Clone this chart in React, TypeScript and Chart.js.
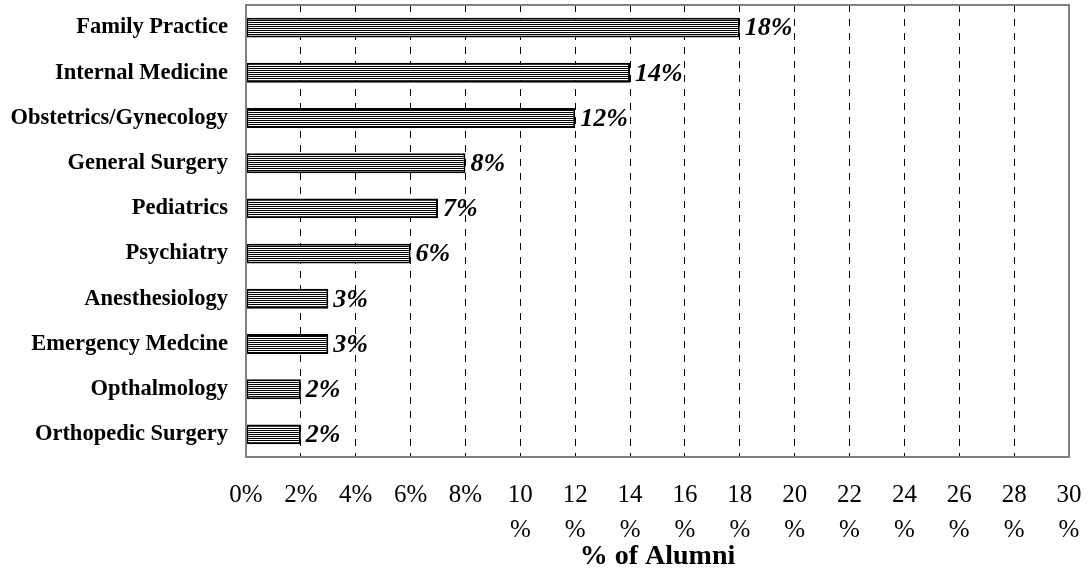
import React, { useEffect, useRef } from "react";
import { Chart, registerables } from "chart.js";

Chart.register(...registerables);

const categories = [
  "Family Practice",
  "Internal Medicine",
  "Obstetrics/Gynecology",
  "General Surgery",
  "Pediatrics",
  "Psychiatry",
  "Anesthesiology",
  "Emergency Medcine",
  "Opthalmology",
  "Orthopedic Surgery",
];
const percentAlumni = [18, 14, 12, 8, 7, 6, 3, 3, 2, 2];
const xTickValues = [0, 2, 4, 6, 8, 10, 12, 14, 16, 18, 20, 22, 24, 26, 28, 30];
const axisTitle = "% of Alumni";

const SERIF = "'Liberation Serif', 'Times New Roman', serif";

function makePattern(): CanvasPattern | string {
  const c = document.createElement("canvas");
  c.width = 4;
  c.height = 2;
  const g = c.getContext("2d");
  if (!g) return "#000";
  g.fillStyle = "#fff";
  g.fillRect(0, 0, 4, 2);
  g.fillStyle = "#000";
  g.fillRect(0, 0, 4, 1);
  const p = g.createPattern(c, "repeat");
  return p || "#000";
}

const frameAndLabels = {
  id: "frameAndLabels",
  afterDatasetsDraw(chart: any) {
    const { ctx, chartArea } = chart;
    ctx.save();
    ctx.strokeStyle = "#808080";
    ctx.lineWidth = 2;
    ctx.strokeRect(
      chartArea.left,
      chartArea.top,
      chartArea.right - chartArea.left,
      chartArea.bottom - chartArea.top
    );
    const meta = chart.getDatasetMeta(0);
    ctx.fillStyle = "#000";
    ctx.font = `italic bold 26px ${SERIF}`;
    ctx.textAlign = "left";
    ctx.textBaseline = "middle";
    meta.data.forEach((el: any, i: number) => {
      ctx.fillText(`${percentAlumni[i]}%`, el.x + 5, el.y + 1);
    });
    ctx.restore();
  },
};

export default function App() {
  const ref = useRef<HTMLCanvasElement | null>(null);
  useEffect(() => {
    if (!ref.current) return;
    const chart = new Chart(ref.current, {
      type: "bar",
      data: {
        labels: categories,
        datasets: [
          {
            data: percentAlumni,
            backgroundColor: makePattern() as any,
            borderColor: "#000",
            borderWidth: 2,
            borderSkipped: false,
            barPercentage: 0.44,
            categoryPercentage: 1,
          },
        ],
      },
      options: {
        indexAxis: "y",
        responsive: false,
        animation: false,
        layout: { padding: { top: 5, right: 18, left: 0, bottom: 0 } },
        plugins: { legend: { display: false }, tooltip: { enabled: false } },
        scales: {
          x: {
            min: 0,
            max: 30,
            afterBuildTicks: (scale: any) => {
              scale.ticks = xTickValues.map((v) => ({ value: v }));
            },
            afterFit: (scale: any) => {
              scale.height = 112;
              scale.paddingLeft = 0;
              scale.paddingRight = 0;
            },
            ticks: {
              color: "#000",
              padding: 21,
              maxRotation: 0,
              autoSkip: false,
              font: { family: SERIF, size: 25, lineHeight: 1.4 },
              callback: (v: any) => (Number(v) >= 10 ? [`${v}`, "%"] : `${v}%`),
            },
            grid: {
              drawTicks: false,
              color: (c: any) =>
                c.tick && (c.tick.value === 0 || c.tick.value === 30) ? "rgba(0,0,0,0)" : "#000",
              lineWidth: 1,
            },
            border: { display: false, dash: [7, 7] },
            title: {
              display: true,
              text: axisTitle,
              color: "#000",
              font: { family: SERIF, size: 28, weight: "bold", lineHeight: 1 },
              padding: { top: 0, bottom: -2 },
            },
          },
          y: {
            afterFit: (scale: any) => {
              scale.width = 246;
              scale.paddingTop = 0;
              scale.paddingBottom = 0;
            },
            ticks: {
              color: "#000",
              padding: 18,
              font: { family: SERIF, size: 22.5, weight: "bold" },
            },
            grid: { display: false, drawTicks: false },
            border: { display: false },
          },
        },
      },
      plugins: [frameAndLabels],
    });
    return () => chart.destroy();
  }, []);
  return (
    <div style={{ position: "fixed", left: 0, top: 0, width: 1087, height: 569, background: "#fff" }}>
      <canvas ref={ref} width={1087} height={569} style={{ display: "block" }} />
    </div>
  );
}
